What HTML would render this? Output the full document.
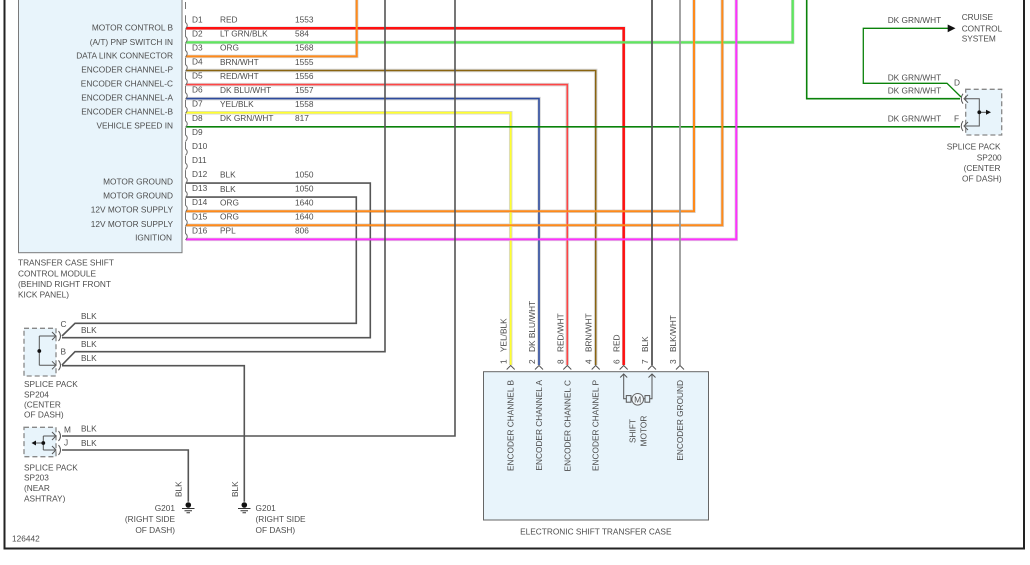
<!DOCTYPE html>
<html><head><meta charset="utf-8">
<style>
html,body{margin:0;padding:0;background:#fff;}
svg{display:block;}
text{font-family:"Liberation Sans",Arial,sans-serif;font-size:8.3px;fill:#4d4d4d;}
</style></head>
<body>
<svg width="1030" height="565" viewBox="0 0 1030 565" xmlns="http://www.w3.org/2000/svg">
<rect x="0" y="0" width="1030" height="565" fill="#fff"/>
<!-- frame -->
<path d="M4.5,0 V548.5 H1024 V0" fill="none" stroke="#222" stroke-width="2"/>

<!-- module box -->
<rect x="18.5" y="-5" width="163.5" height="257.7" fill="#e8f4fb" stroke="#7a7a7a" stroke-width="1"/>
<!-- connector box -->
<rect x="483.5" y="371.7" width="225" height="148.3" fill="#e8f4fb" stroke="#666" stroke-width="1"/>
<!-- splice packs -->
<rect x="965.7" y="89.3" width="36" height="45.7" fill="#e8f4fb" stroke="#888" stroke-width="1.3" stroke-dasharray="5,3"/>
<rect x="24" y="328.3" width="32" height="47.7" fill="#e8f4fb" stroke="#888" stroke-width="1.3" stroke-dasharray="5,3"/>
<rect x="24" y="427.3" width="32" height="29.4" fill="#e8f4fb" stroke="#888" stroke-width="1.3" stroke-dasharray="5,3"/>

<!-- wire halos -->
<g fill="none" stroke="#d6d6d6" stroke-width="3.5" stroke-linejoin="miter">
<path d="M186,28.3 H623.7 V365"/>
<path d="M186,42.4 H792.7 V0"/>
<path d="M186,56.4 H356.7 V0"/>
<path d="M186,70.5 H595.7 V365"/>
<path d="M186,84.6 H567.3 V365"/>
<path d="M186,98.6 H539 V365"/>
<path d="M186,112.7 H510.7 V365"/>
<path d="M186,211.2 H694 V0"/>
<path d="M186,225.3 H722.3 V0"/>
<path d="M186,239.4 H736.3 V0"/>
</g>

<!-- wires -->
<g fill="none" stroke-linejoin="miter">
<path d="M186,28.3 H623.7 V365" stroke="#ff1010" stroke-width="2.5"/>
<path d="M186,42.4 H792.7 V0" stroke="#5fe65f" stroke-width="2.3"/>
<path d="M186,56.4 H356.7 V0" stroke="#ff8a1a" stroke-width="2"/>
<path d="M186,70.5 H595.7 V365" stroke="#8a6410" stroke-width="1.5"/>
<path d="M186,84.6 H567.3 V365" stroke="#ff4545" stroke-width="1.6"/>
<path d="M186,98.6 H539 V365" stroke="#2d4b9e" stroke-width="1.6"/>
<path d="M186,112.7 H510.7 V365" stroke="#ffff30" stroke-width="1.8"/>
<path d="M186,126.8 H960" stroke="#0a820a" stroke-width="1.6"/>
<path d="M186,183.1 H370.3 V337.7 H62" stroke="#555" stroke-width="1.6"/>
<path d="M186,197.1 H356.3 V323.3 H75 L62,336" stroke="#555" stroke-width="1.6"/>
<path d="M186,211.2 H694 V0" stroke="#ff8a1a" stroke-width="2"/>
<path d="M186,225.3 H722.3 V0" stroke="#ff8a1a" stroke-width="2"/>
<path d="M186,239.4 H736.3 V0" stroke="#ff30ff" stroke-width="2"/>
<path d="M385,0 V351.7 H75 L62,365" stroke="#555" stroke-width="1.6"/>
<path d="M455,0 V436 H62" stroke="#555" stroke-width="1.6"/>
<path d="M62,365.7 H244.3 V501.7" stroke="#555" stroke-width="1.6"/>
<path d="M62,450 H188.3 V501.7" stroke="#555" stroke-width="1.6"/>
<path d="M652,0 V365" stroke="#555" stroke-width="1.8"/>
<path d="M680,0 V365" stroke="#999" stroke-width="1.8"/>
<path d="M806.7,0 V98.7 H960" stroke="#0a820a" stroke-width="1.6"/>
<path d="M948,28.3 H863.3 V83.3 H947 L961,97" stroke="#0a820a" stroke-width="1.3"/>
</g>
<!-- cruise arrow -->
<polygon points="947.7,24.5 955.5,28.3 947.7,32.3" fill="#111"/>

<!-- module connector brackets -->
<g fill="none" stroke="#666" stroke-width="0.9">
<path d="M185.5,2 V9"/>
<path d="M185.5,15.3 V22.3 Q189,25.3 185.5,28.8"/>
<path d="M185.5,29.4 V36.4 Q189,39.4 185.5,42.9"/>
<path d="M185.5,43.4 V50.4 Q189,53.4 185.5,56.9"/>
<path d="M185.5,57.5 V64.5 Q189,67.5 185.5,71"/>
<path d="M185.5,71.6 V78.6 Q189,81.6 185.5,85.1"/>
<path d="M185.5,85.6 V92.6 Q189,95.6 185.5,99.1"/>
<path d="M185.5,99.7 V106.7 Q189,109.7 185.5,113.2"/>
<path d="M185.5,113.8 V120.8 Q189,123.8 185.5,127.3"/>
<path d="M185.5,127.9 V134.9 Q189,137.9 185.5,141.4"/>
<path d="M185.5,141.9 V148.9 Q189,151.9 185.5,155.4"/>
<path d="M185.5,156 V163 Q189,166 185.5,169.5"/>
<path d="M185.5,170.1 V177.1 Q189,180.1 185.5,183.6"/>
<path d="M185.5,184.1 V191.1 Q189,194.1 185.5,197.6"/>
<path d="M185.5,198.2 V205.2 Q189,208.2 185.5,211.7"/>
<path d="M185.5,212.3 V219.3 Q189,222.3 185.5,225.8"/>
<path d="M185.5,226.4 V233.4 Q189,236.4 185.5,239.9"/>
</g>

<!-- module labels -->
<g text-anchor="end">
<text x="173" y="30.3">MOTOR CONTROL B</text>
<text x="173" y="44.8">(A/T) PNP SWITCH IN</text>
<text x="173" y="58.3">DATA LINK CONNECTOR</text>
<text x="173" y="72.3">ENCODER CHANNEL-P</text>
<text x="173" y="86.3">ENCODER CHANNEL-C</text>
<text x="173" y="100.3">ENCODER CHANNEL-A</text>
<text x="173" y="114.3">ENCODER CHANNEL-B</text>
<text x="173" y="128.3">VEHICLE SPEED IN</text>
<text x="173" y="184.3">MOTOR GROUND</text>
<text x="173" y="198.3">MOTOR GROUND</text>
<text x="173" y="212.3">12V MOTOR SUPPLY</text>
<text x="173" y="226.8">12V MOTOR SUPPLY</text>
<text x="172" y="240.3">IGNITION</text>
</g>
<g>
<text x="192" y="22.3">D1</text><text x="220" y="22.6">RED</text><text x="295" y="22.6">1553</text>
<text x="192" y="36.4">D2</text><text x="220" y="36.7">LT GRN/BLK</text><text x="295" y="36.7">584</text>
<text x="192" y="50.4">D3</text><text x="220" y="50.7">ORG</text><text x="295" y="50.7">1568</text>
<text x="192" y="64.5">D4</text><text x="220" y="64.8">BRN/WHT</text><text x="295" y="64.8">1555</text>
<text x="192" y="78.6">D5</text><text x="220" y="78.9">RED/WHT</text><text x="295" y="79.2">1556</text>
<text x="192" y="92.6">D6</text><text x="220" y="92.9">DK BLU/WHT</text><text x="295" y="92.9">1557</text>
<text x="192" y="106.7">D7</text><text x="220" y="107">YEL/BLK</text><text x="295" y="107">1558</text>
<text x="192" y="120.8">D8</text><text x="220" y="121.1">DK GRN/WHT</text><text x="295" y="121.1">817</text>
<text x="192" y="134.9">D9</text>
<text x="192" y="148.9">D10</text>
<text x="192" y="163">D11</text>
<text x="192" y="177.1">D12</text><text x="220" y="177.4">BLK</text><text x="295" y="177.4">1050</text>
<text x="192" y="191.1">D13</text><text x="220" y="191.9">BLK</text><text x="295" y="191.4">1050</text>
<text x="192" y="205.2">D14</text><text x="220" y="205.5">ORG</text><text x="295" y="205.5">1640</text>
<text x="192" y="219.3">D15</text><text x="220" y="219.6">ORG</text><text x="295" y="219.6">1640</text>
<text x="192" y="233.4">D16</text><text x="220" y="233.7">PPL</text><text x="295" y="233.7">806</text>
</g>
<text x="18" y="265.3">TRANSFER CASE SHIFT</text>
<text x="18" y="276.3">CONTROL MODULE</text>
<text x="18" y="287">(BEHIND RIGHT FRONT</text>
<text x="18" y="297.3">KICK PANEL)</text>

<!-- SP200 -->
<g fill="none" stroke="#555" stroke-width="1">
<path d="M963,93.7 Q959.5,98.7 963,103.7"/>
<path d="M968,94.7 L964,98.7 L968,102.7"/>
<path d="M963,121 Q959.5,126 963,131"/>
<path d="M968,122 L964,126 L968,130"/>
<path d="M965,98.7 H979.3 V126 H965"/>
<path d="M979.3,112.3 H989"/>
</g>
<circle cx="979.3" cy="112.3" r="1.9" fill="#111"/>
<polygon points="986,109.8 991,112.3 986,114.8" fill="#111"/>
<text x="887.7" y="23">DK GRN/WHT</text>
<text x="887.7" y="80.3">DK GRN/WHT</text>
<text x="887.7" y="93.7">DK GRN/WHT</text>
<text x="887.7" y="121.7">DK GRN/WHT</text>
<text x="954" y="85.7">D</text>
<text x="954" y="121.7">F</text>
<text x="961.7" y="20">CRUISE</text>
<text x="961.7" y="31.3">CONTROL</text>
<text x="961.7" y="41.3">SYSTEM</text>
<g text-anchor="end">
<text x="1000.5" y="149.7">SPLICE PACK</text>
<text x="1001.7" y="160.3">SP200</text>
<text x="1000.5" y="171">(CENTER</text>
<text x="1001.7" y="181.3">OF DASH)</text>
</g>

<!-- SP204 -->
<g fill="none" stroke="#555" stroke-width="1">
<path d="M39.3,336 V365.3"/>
<path d="M39.3,336 H55 M39.3,365.3 H55"/>
<path d="M52,332 L56,336 L52,340"/>
<path d="M52,361.3 L56,365.3 L52,369.3"/>
<path d="M58.5,331 Q62.5,336 58.5,341"/>
<path d="M58.5,360.3 Q62.5,365.3 58.5,370.3"/>
</g>
<circle cx="39.3" cy="351" r="1.9" fill="#111"/>
<text x="60.5" y="327">C</text>
<text x="60.5" y="354.7">B</text>
<text x="81" y="319">BLK</text>
<text x="81" y="333">BLK</text>
<text x="81" y="347">BLK</text>
<text x="81" y="361">BLK</text>
<text x="24" y="387">SPLICE PACK</text>
<text x="24" y="397.3">SP204</text>
<text x="24" y="407.3">(CENTER</text>
<text x="24" y="417.3">OF DASH)</text>

<!-- SP203 -->
<g fill="none" stroke="#555" stroke-width="1">
<path d="M43.3,436 V450 M43.3,436 H55 M43.3,450 H55"/>
<path d="M52,432 L56,436 L52,440"/>
<path d="M52,446 L56,450 L52,454"/>
<path d="M58.5,431 Q62.5,436 58.5,441"/>
<path d="M58.5,445 Q62.5,450 58.5,455"/>
<path d="M43.3,443 H35"/>
</g>
<circle cx="43.3" cy="443" r="1.9" fill="#111"/>
<polygon points="36,440.5 31.5,443 36,445.5" fill="#111"/>
<text x="64" y="432.3">M</text>
<text x="64" y="445.7">J</text>
<text x="81" y="431.7">BLK</text>
<text x="81" y="446">BLK</text>
<text x="24" y="470.7">SPLICE PACK</text>
<text x="24" y="480.7">SP203</text>
<text x="24" y="491">(NEAR</text>
<text x="24" y="501.7">ASHTRAY)</text>

<!-- grounds -->
<g fill="none" stroke="#333" stroke-width="1">
<path d="M182,508.5 H194.5 M184.5,510.7 H192 M186.5,512.7 H190"/>
<path d="M238,508.5 H250.5 M240.5,510.7 H248 M242.5,512.7 H246"/>
</g>
<circle cx="188.3" cy="505" r="2.8" fill="#111"/>
<circle cx="244.3" cy="505" r="2.8" fill="#111"/>
<text transform="translate(181.5,497) rotate(-90)">BLK</text>
<text transform="translate(237.8,497) rotate(-90)">BLK</text>
<g text-anchor="end">
<text x="175" y="511">G201</text>
<text x="175" y="522">(RIGHT SIDE</text>
<text x="175" y="533">OF DASH)</text>
</g>
<text x="255.5" y="511">G201</text>
<text x="255.5" y="522">(RIGHT SIDE</text>
<text x="255.5" y="533">OF DASH)</text>
<text x="12" y="541.7">126442</text>

<!-- connector pin carets -->
<g fill="none" stroke="#555" stroke-width="1">
<path d="M506.7,369.5 L510.7,365.5 L514.7,369.5"/>
<path d="M535,369.5 L539,365.5 L543,369.5"/>
<path d="M563.3,369.5 L567.3,365.5 L571.3,369.5"/>
<path d="M591.7,369.5 L595.7,365.5 L599.7,369.5"/>
<path d="M619.7,369.5 L623.7,365.5 L627.7,369.5"/>
<path d="M648,369.5 L652,365.5 L656,369.5"/>
<path d="M676,369.5 L680,365.5 L684,369.5"/>
<!-- motor -->
<path d="M623.7,374 V398.8 H626.3"/>
<path d="M652,374 V398.8 H649.7"/>
<path d="M620.2,377.5 L623.7,374 L627.2,377.5"/>
<path d="M648.5,377.5 L652,374 L655.5,377.5"/>
<rect x="626.3" y="395.6" width="4.7" height="6.6"/>
<rect x="645" y="395.6" width="4.7" height="6.6"/>
<path d="M631,398.8 H632 M643.5,398.8 H645"/>
</g>
<circle cx="637.7" cy="399.3" r="5.8" fill="#f2f8fc" stroke="#666" stroke-width="1"/>
<text x="637.7" y="402.6" text-anchor="middle" style="font-size:8.5px">M</text>

<!-- pin labels -->
<g>
<text transform="translate(506.7,364) rotate(-90)">1</text>
<text transform="translate(506.7,352) rotate(-90)">YEL/BLK</text>
<text transform="translate(535,364) rotate(-90)">2</text>
<text transform="translate(535,352) rotate(-90)">DK BLU/WHT</text>
<text transform="translate(563.3,364) rotate(-90)">8</text>
<text transform="translate(563.3,352) rotate(-90)">RED/WHT</text>
<text transform="translate(591.7,364) rotate(-90)">4</text>
<text transform="translate(591.7,352) rotate(-90)">BRN/WHT</text>
<text transform="translate(619.7,364) rotate(-90)">6</text>
<text transform="translate(619.7,352) rotate(-90)">RED</text>
<text transform="translate(648,364) rotate(-90)">7</text>
<text transform="translate(648,352) rotate(-90)">BLK</text>
<text transform="translate(676,364) rotate(-90)">3</text>
<text transform="translate(676,352) rotate(-90)">BLK/WHT</text>
</g>
<g text-anchor="end">
<text transform="translate(513.7,380) rotate(-90)">ENCODER CHANNEL B</text>
<text transform="translate(542,380) rotate(-90)">ENCODER CHANNEL A</text>
<text transform="translate(570.3,380) rotate(-90)">ENCODER CHANNEL C</text>
<text transform="translate(598.7,380) rotate(-90)">ENCODER CHANNEL P</text>
<text transform="translate(683,380) rotate(-90)">ENCODER GROUND</text>
</g>
<g text-anchor="middle">
<text transform="translate(635.3,431) rotate(-90)">SHIFT</text>
<text transform="translate(646.3,431) rotate(-90)">MOTOR</text>
</g>
<text x="595.8" y="534.7" text-anchor="middle">ELECTRONIC SHIFT TRANSFER CASE</text>
</svg>
</body></html>
